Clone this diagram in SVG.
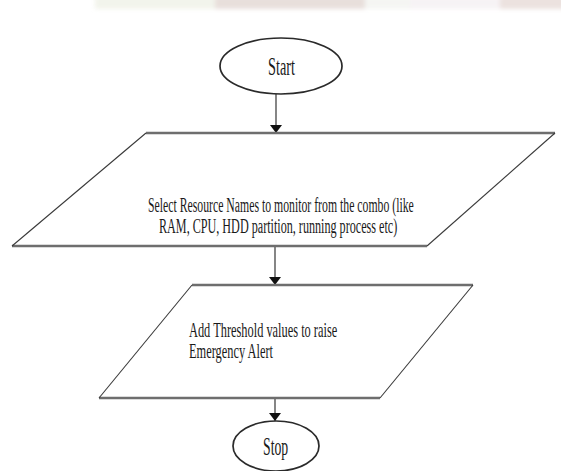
<svg xmlns="http://www.w3.org/2000/svg" width="561" height="471" viewBox="0 0 561 471">
  <defs>
    <marker id="arrow" viewBox="0 0 8 12" refX="8" refY="6" markerWidth="8" markerHeight="12" markerUnits="userSpaceOnUse" orient="auto">
      <path d="M0,0 L8,6 L0,12 Z" fill="#111"/>
    </marker>
    <filter id="soft" x="-10%" y="-50%" width="120%" height="200%">
      <feGaussianBlur stdDeviation="2"/>
    </filter>
    <style>
      .edge-h { stroke: #6e6e6e; stroke-width: 2.6; fill: none; }
      .edge-d { stroke: #3a3a3a; stroke-width: 1.1; fill: none; }
      .oval { fill: #fff; stroke: #2a2a2a; stroke-width: 1.7; }
      .conn { stroke: #222; stroke-width: 1.1; fill: none; marker-end: url(#arrow); }
      .lbl { font-family: "Liberation Serif", "Times New Roman", serif; fill: #1a1a1a; }
      .big { font-size: 26px; }
      .body { font-size: 21px; }
      .body-s { font-size: 20px; }
    </style>
  </defs>

  <rect width="561" height="471" fill="#fff"/>

  <!-- faint banner strip along the top edge -->
  <g filter="url(#soft)" opacity="0.9">
    <rect x="95" y="-4" width="120" height="13" fill="#f1f3ea"/>
    <rect x="215" y="-4" width="150" height="13" fill="#e6dcd8"/>
    <rect x="365" y="-4" width="45" height="13" fill="#f4f5f2"/>
    <rect x="410" y="-4" width="100" height="13" fill="#f6f2f4"/>
    <rect x="500" y="-4" width="65" height="13" fill="#eadfdc"/>
  </g>

  <!-- connectors -->
  <g id="connectors">
    <line class="conn" x1="276" y1="94" x2="276" y2="133"/>
    <line class="conn" x1="275" y1="247" x2="275" y2="285"/>
    <line class="conn" x1="275" y1="399" x2="275" y2="421"/>
  </g>

  <!-- labels are set in a narrow face: x is squeezed to 0.6 and lengths given in unsqueezed units -->
  <g id="start">
    <ellipse class="oval" cx="281" cy="66" rx="61" ry="28"/>
    <text class="lbl big" transform="translate(268,75) scale(0.6,1)" textLength="45" lengthAdjust="spacingAndGlyphs">Start</text>
  </g>

  <g id="select-resources">
    <polygon points="146,133 555,133 427,246 12,246" fill="#fff" stroke="none"/>
    <line class="edge-h" x1="146" y1="133" x2="555" y2="133"/>
    <line class="edge-h" x1="12" y1="246" x2="427" y2="246"/>
    <line class="edge-d" x1="146" y1="133" x2="12" y2="246"/>
    <line class="edge-d" x1="555" y1="133" x2="427" y2="246"/>
    <text class="lbl body-s" transform="translate(148,212) scale(0.6,1)" textLength="443" lengthAdjust="spacingAndGlyphs">Select Resource Names to monitor from the combo (like</text>
    <text class="lbl body-s" transform="translate(159,233) scale(0.6,1)" textLength="397" lengthAdjust="spacingAndGlyphs">RAM, CPU, HDD partition, running process etc)</text>
  </g>

  <g id="add-thresholds">
    <polygon points="192,285 473,285 380,398 99,398" fill="#fff" stroke="none"/>
    <line class="edge-h" x1="192" y1="285" x2="473" y2="285"/>
    <line class="edge-h" x1="99" y1="398" x2="380" y2="398"/>
    <line class="edge-d" x1="192" y1="285" x2="99" y2="398"/>
    <line class="edge-d" x1="473" y1="285" x2="380" y2="398"/>
    <text class="lbl body" transform="translate(189,337) scale(0.6,1)" textLength="247" lengthAdjust="spacingAndGlyphs">Add Threshold values to raise</text>
    <text class="lbl body" transform="translate(189,358) scale(0.6,1)" textLength="140" lengthAdjust="spacingAndGlyphs">Emergency Alert</text>
  </g>

  <g id="stop">
    <ellipse class="oval" cx="276" cy="446" rx="43" ry="25"/>
    <text class="lbl big" transform="translate(263,455) scale(0.6,1)" textLength="42" lengthAdjust="spacingAndGlyphs">Stop</text>
  </g>
</svg>
